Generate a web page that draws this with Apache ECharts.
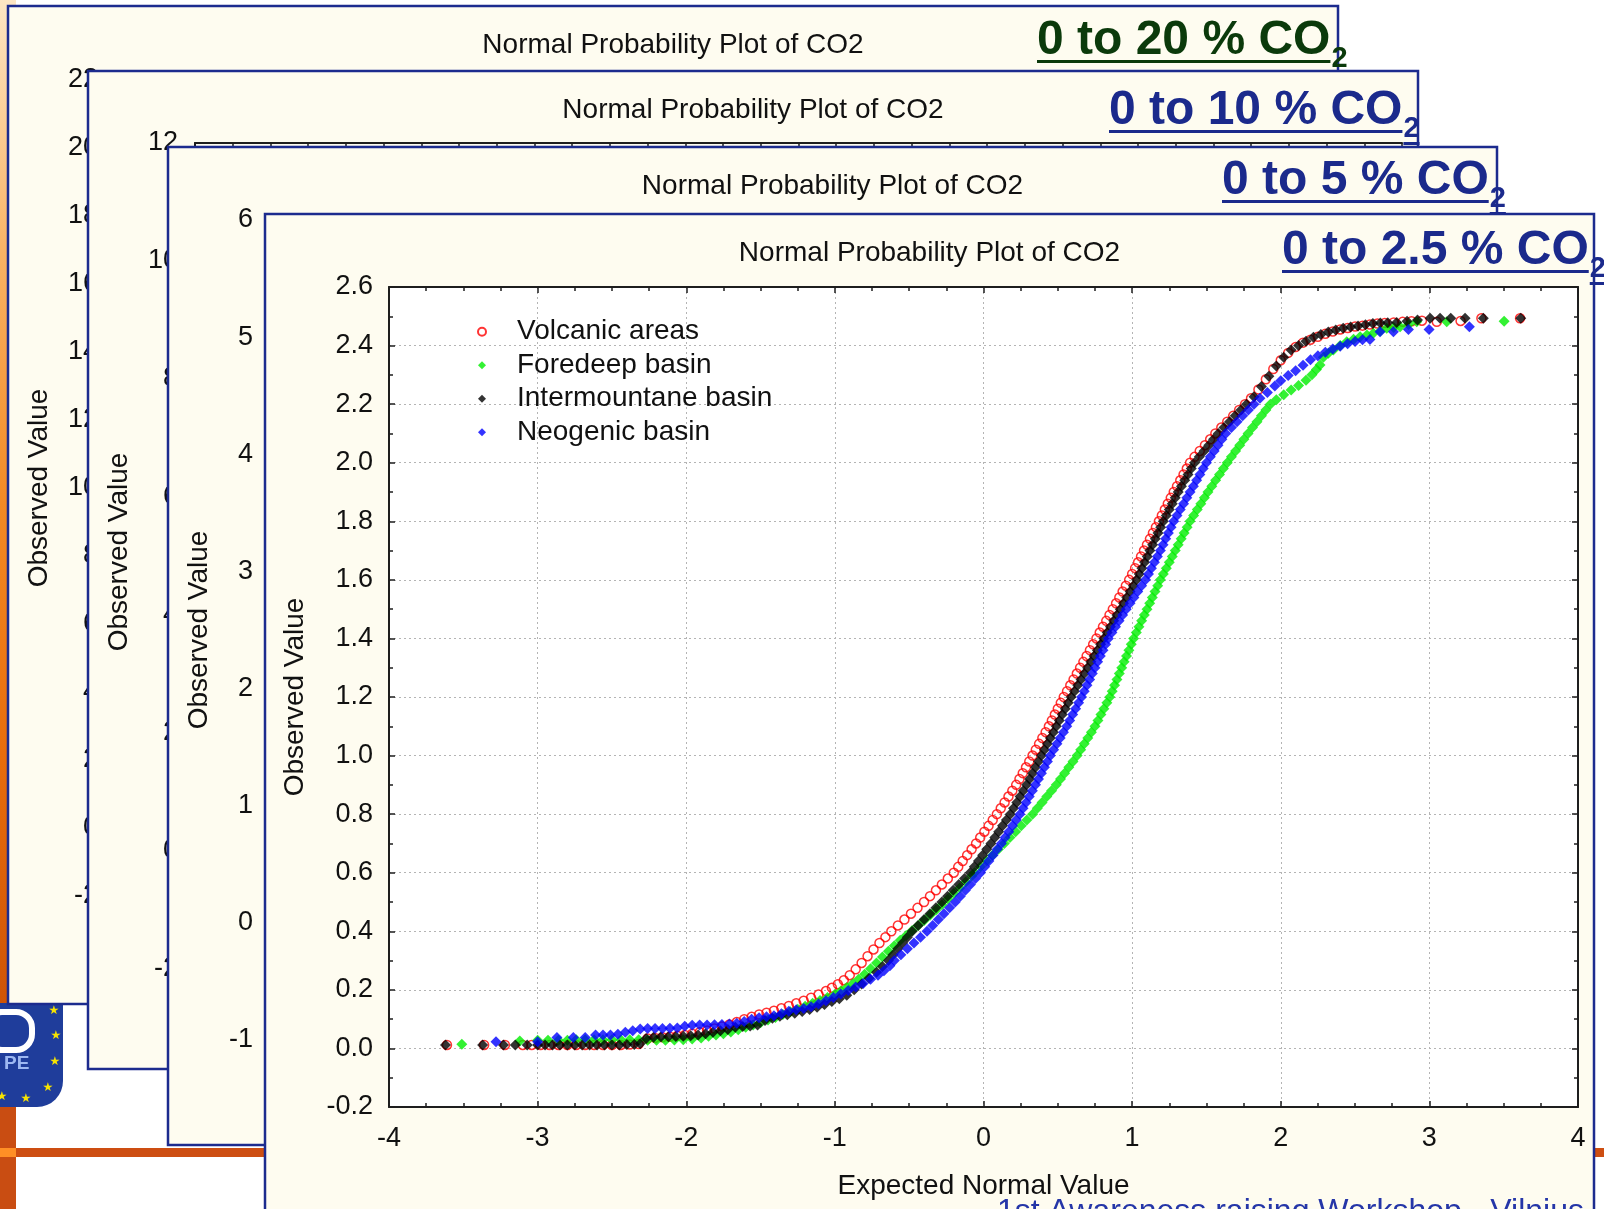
<!DOCTYPE html>
<html>
<head>
<meta charset="utf-8">
<title>Normal Probability Plot of CO2</title>
<script src="https://cdn.jsdelivr.net/npm/echarts@6.0.0/dist/echarts.min.js"></script>
<style>
  html, body { margin: 0; padding: 0; background: #ffffff; overflow: hidden; }
  #chart { width: 1604px; height: 1209px; }
</style>
</head>
<body>
<div id="chart"></div>
<script>
// ---------------- data ----------------
const seriesNames = ['Volcanic areas', 'Foredeep basin', 'Intermountane basin', 'Neogenic basin'];

// [expected normal value, observed value]
const volcanicPts = [
  [-3.61,0.012],[-3.36,0.012],[-3.22,0.012],[-3.1,0.012],[-3.04,0.012],[-2.98,0.012],[-2.92,0.012],[-2.86,0.012],
  [-2.8,0.012],[-2.74,0.012],[-2.68,0.012],[-2.62,0.012],[-2.56,0.012],[-2.5,0.012],[-2.44,0.012],[-2.38,0.013],[-2.32,0.015],
  [-2.26,0.034],[-2.21,0.036],[-2.16,0.038],[-2.11,0.04],[-2.06,0.043],[-2.01,0.046],[-1.96,0.05],[-1.91,0.055],
  [-1.86,0.061],[-1.81,0.068],[-1.76,0.075],[-1.71,0.082],[-1.66,0.09],[-1.61,0.1],[-1.56,0.108],[-1.51,0.116],
  [-1.46,0.122],[-1.41,0.129],[-1.36,0.137],[-1.31,0.145],[-1.26,0.154],[-1.21,0.163],[-1.16,0.173],[-1.11,0.184],
  [-1.06,0.196],[-1.02,0.207],[-0.98,0.219],[-0.94,0.233],[-0.90,0.25],[-0.86,0.27],[-0.82,0.292],[-0.78,0.315],
  [-0.74,0.338],[-0.70,0.36],[-0.66,0.38],[-0.62,0.40],[-0.576,0.42],[-0.532,0.44],
  [-0.488,0.46],[-0.444,0.48],[-0.40,0.50],[-0.36,0.52],[-0.32,0.54],[-0.28,0.56],[-0.24,0.58],[-0.20,0.60],
  [-0.17,0.62],[-0.14,0.64],[-0.11,0.66],[-0.08,0.68],[-0.05,0.70],[-0.022,0.72],[0.006,0.74],[0.034,0.76],
  [0.062,0.78],[0.09,0.80],[0.116,0.82],[0.142,0.84],[0.168,0.86],[0.194,0.88],[0.22,0.90],[0.242,0.92],
  [0.264,0.94],[0.286,0.96],[0.308,0.98],[0.33,1.00],[0.352,1.02],[0.374,1.04],[0.396,1.06],[0.418,1.08],
  [0.44,1.10],[0.46,1.12],[0.48,1.14],[0.50,1.16],[0.52,1.18],[0.54,1.20],[0.562,1.22],[0.584,1.24],
  [0.606,1.26],[0.628,1.28],[0.65,1.30],[0.672,1.32],[0.694,1.34],[0.716,1.36],[0.738,1.38],[0.76,1.40],
  [0.782,1.42],[0.804,1.44],[0.826,1.46],[0.848,1.48],[0.87,1.50],[0.892,1.52],[0.914,1.54],[0.936,1.56],
  [0.958,1.58],[0.98,1.60],[1.00,1.62],[1.02,1.64],[1.04,1.66],[1.06,1.68],[1.08,1.70],[1.10,1.72],
  [1.12,1.74],[1.14,1.76],[1.16,1.78],[1.18,1.80],[1.20,1.82],[1.22,1.84],[1.24,1.86],[1.26,1.88],
  [1.28,1.90],[1.302,1.92],[1.324,1.94],[1.346,1.96],[1.368,1.98],[1.39,2.00],[1.42,2.02],[1.455,2.04],
  [1.49,2.06],[1.525,2.08],[1.56,2.10],[1.60,2.12],[1.64,2.14],[1.68,2.16],[1.72,2.18],[1.76,2.20],
  [1.80,2.22],[1.85,2.25],[1.90,2.285],[1.95,2.32],[2.0,2.35],[2.05,2.375],[2.10,2.395],[2.15,2.41],
  [2.20,2.42],[2.25,2.43],[2.30,2.44],[2.35,2.448],[2.40,2.455],[2.45,2.46],[2.50,2.465],[2.55,2.468],
  [2.60,2.472],[2.65,2.475],[2.70,2.477],[2.76,2.479],[2.82,2.481],[2.88,2.483],[2.95,2.485],
  [3.05,2.481],[3.21,2.484],[3.35,2.493],[3.61,2.493]
];

const foredeepPts = [
  [-3.51,0.014],[-3.12,0.025],[-3.0,0.028],[-2.93,0.028],[-2.86,0.028],[-2.8,0.028],[-2.74,0.03],[-2.68,0.03],
  [-2.62,0.03],[-2.56,0.03],[-2.5,0.03],[-2.44,0.03],[-2.38,0.03],[-2.32,0.03],[-2.26,0.028],[-2.2,0.028],
  [-2.14,0.028],[-2.08,0.029],[-2.02,0.03],[-1.96,0.032],[-1.9,0.036],[-1.85,0.042],[-1.8,0.046],[-1.75,0.05],
  [-1.7,0.056],[-1.65,0.064],[-1.6,0.072],[-1.55,0.08],[-1.5,0.088],[-1.45,0.097],[-1.4,0.106],[-1.35,0.116],
  [-1.3,0.125],[-1.25,0.134],[-1.2,0.144],[-1.15,0.154],[-1.1,0.164],[-1.05,0.174],[-1.0,0.185],[-0.96,0.196],
  [-0.92,0.208],[-0.88,0.221],[-0.84,0.236],[-0.80,0.253],[-0.76,0.272],[-0.72,0.292],[-0.68,0.312],[-0.64,0.332],
  [-0.60,0.351],[-0.56,0.369],[-0.52,0.386],[-0.48,0.403],[-0.44,0.42],[-0.40,0.437],[-0.36,0.455],[-0.32,0.473],
  [-0.28,0.491],[-0.24,0.51],[-0.20,0.529],[-0.16,0.548],[-0.12,0.568],[-0.08,0.589],[-0.06,0.60],
  [-0.02,0.62],[0.02,0.64],[0.06,0.66],[0.10,0.68],[0.14,0.70],[0.178,0.72],[0.216,0.74],[0.254,0.76],
  [0.292,0.78],[0.33,0.80],[0.362,0.82],[0.394,0.84],[0.426,0.86],[0.458,0.88],[0.49,0.90],[0.518,0.92],
  [0.546,0.94],[0.574,0.96],[0.602,0.98],[0.63,1.00],[0.654,1.02],[0.678,1.04],[0.702,1.06],[0.726,1.08],
  [0.75,1.10],[0.77,1.12],[0.79,1.14],[0.81,1.16],[0.83,1.18],[0.85,1.20],[0.866,1.22],[0.882,1.24],
  [0.898,1.26],[0.914,1.28],[0.93,1.30],[0.946,1.32],[0.962,1.34],[0.978,1.36],[0.994,1.38],[1.01,1.40],
  [1.028,1.42],[1.046,1.44],[1.064,1.46],[1.082,1.48],[1.10,1.50],[1.118,1.52],[1.136,1.54],[1.154,1.56],
  [1.172,1.58],[1.19,1.60],[1.21,1.62],[1.23,1.64],[1.25,1.66],[1.27,1.68],[1.29,1.70],[1.31,1.72],
  [1.33,1.74],[1.35,1.76],[1.37,1.78],[1.39,1.80],[1.414,1.82],[1.438,1.84],[1.462,1.86],[1.486,1.88],
  [1.51,1.90],[1.536,1.92],[1.562,1.94],[1.588,1.96],[1.614,1.98],[1.64,2.00],[1.668,2.02],[1.696,2.04],
  [1.724,2.06],[1.752,2.08],[1.78,2.10],[1.81,2.12],[1.84,2.14],[1.87,2.16],[1.90,2.18],[1.93,2.20],
  [1.97,2.215],[2.02,2.232],[2.07,2.248],[2.12,2.264],[2.17,2.282],[2.21,2.30],[2.24,2.318],[2.264,2.334],
  [2.287,2.36],[2.32,2.374],[2.354,2.385],[2.40,2.40],[2.444,2.413],[2.49,2.422],[2.534,2.43],[2.58,2.436],
  [2.623,2.442],[2.67,2.45],[2.713,2.459],[2.76,2.462],[2.803,2.464],[2.86,2.472],[2.915,2.481],
  [3.117,2.481],[3.503,2.483]
];

const intermountanePts = [
  [-3.62,0.012],[-3.37,0.012],[-3.23,0.012],[-3.15,0.012],[-3.07,0.012],[-3.0,0.012],[-2.95,0.012],[-2.9,0.012],
  [-2.85,0.012],[-2.8,0.012],[-2.75,0.012],[-2.7,0.012],[-2.65,0.012],[-2.6,0.012],[-2.55,0.012],[-2.5,0.012],
  [-2.45,0.012],[-2.4,0.013],[-2.35,0.013],[-2.31,0.016],[-2.27,0.034],[-2.22,0.038],[-2.17,0.04],[-2.12,0.04],
  [-2.07,0.041],[-2.02,0.042],[-1.97,0.043],[-1.92,0.046],[-1.87,0.05],[-1.82,0.055],[-1.77,0.06],[-1.72,0.065],
  [-1.67,0.072],[-1.62,0.075],[-1.57,0.077],[-1.52,0.08],[-1.47,0.095],[-1.42,0.103],[-1.37,0.11],[-1.32,0.115],
  [-1.27,0.12],[-1.22,0.126],[-1.17,0.133],[-1.12,0.141],[-1.07,0.15],[-1.02,0.16],[-0.97,0.17],[-0.92,0.182],
  [-0.87,0.2],[-0.82,0.22],[-0.77,0.24],[-0.72,0.26],[-0.68,0.28],
  [-0.64,0.30],[-0.608,0.32],[-0.576,0.34],[-0.544,0.36],[-0.512,0.38],[-0.48,0.40],[-0.44,0.42],[-0.40,0.44],
  [-0.36,0.46],[-0.32,0.48],[-0.28,0.50],[-0.242,0.52],[-0.204,0.54],[-0.166,0.56],[-0.128,0.58],[-0.09,0.60],
  [-0.062,0.62],[-0.034,0.64],[-0.006,0.66],[0.022,0.68],[0.05,0.70],[0.076,0.72],[0.102,0.74],[0.128,0.76],
  [0.154,0.78],[0.18,0.80],[0.202,0.82],[0.224,0.84],[0.246,0.86],[0.268,0.88],[0.29,0.90],[0.31,0.92],
  [0.33,0.94],[0.35,0.96],[0.37,0.98],[0.39,1.00],[0.41,1.02],[0.43,1.04],[0.45,1.06],[0.47,1.08],
  [0.49,1.10],[0.51,1.12],[0.53,1.14],[0.55,1.16],[0.57,1.18],[0.59,1.20],[0.612,1.22],[0.634,1.24],
  [0.656,1.26],[0.678,1.28],[0.70,1.30],[0.722,1.32],[0.744,1.34],[0.766,1.36],[0.788,1.38],[0.81,1.40],
  [0.832,1.42],[0.854,1.44],[0.876,1.46],[0.898,1.48],[0.92,1.50],[0.942,1.52],[0.964,1.54],[0.986,1.56],
  [1.008,1.58],[1.03,1.60],[1.048,1.62],[1.066,1.64],[1.084,1.66],[1.102,1.68],[1.12,1.70],[1.138,1.72],
  [1.156,1.74],[1.174,1.76],[1.192,1.78],[1.21,1.80],[1.23,1.82],[1.25,1.84],[1.27,1.86],[1.29,1.88],
  [1.31,1.90],[1.332,1.92],[1.354,1.94],[1.376,1.96],[1.398,1.98],[1.42,2.00],[1.452,2.02],[1.484,2.04],
  [1.516,2.06],[1.548,2.08],[1.58,2.10],[1.618,2.12],[1.656,2.14],[1.694,2.16],[1.732,2.18],[1.77,2.20],
  [1.82,2.225],[1.87,2.26],[1.92,2.295],[1.97,2.33],[2.02,2.36],[2.07,2.385],[2.12,2.40],[2.17,2.415],
  [2.22,2.428],[2.27,2.438],[2.32,2.446],[2.37,2.453],[2.42,2.459],[2.47,2.463],[2.52,2.467],[2.57,2.471],
  [2.62,2.475],[2.67,2.477],[2.72,2.478],[2.78,2.479],[2.85,2.483],[2.92,2.487],
  [3.005,2.493],[3.072,2.493],[3.144,2.493],[3.24,2.493],[3.363,2.493],[3.615,2.493]
];

const neogenicPts = [
  [-3.28,0.023],[-3.0,0.023],[-2.87,0.037],[-2.76,0.037],[-2.68,0.037],[-2.61,0.046],[-2.56,0.046],[-2.51,0.046],
  [-2.46,0.048],[-2.41,0.055],[-2.36,0.06],[-2.31,0.066],[-2.26,0.068],[-2.21,0.068],[-2.16,0.068],[-2.11,0.069],
  [-2.06,0.07],[-2.01,0.076],[-1.96,0.079],[-1.91,0.08],[-1.86,0.08],[-1.81,0.081],[-1.76,0.082],[-1.71,0.083],
  [-1.66,0.086],[-1.61,0.092],[-1.56,0.1],[-1.51,0.105],[-1.46,0.108],[-1.41,0.112],[-1.36,0.118],[-1.31,0.127],
  [-1.26,0.132],[-1.21,0.136],[-1.16,0.142],[-1.11,0.152],[-1.06,0.163],[-1.01,0.174],[-0.96,0.186],[-0.91,0.198],
  [-0.86,0.21],[-0.81,0.222],[-0.76,0.236],[-0.71,0.25],[-0.67,0.265],[-0.63,0.282],
  [-0.60,0.30],[-0.556,0.32],[-0.512,0.34],[-0.468,0.36],[-0.424,0.38],[-0.38,0.40],[-0.342,0.42],[-0.304,0.44],
  [-0.266,0.46],[-0.228,0.48],[-0.19,0.50],[-0.156,0.52],[-0.122,0.54],[-0.088,0.56],[-0.054,0.58],[-0.02,0.60],
  [0.008,0.62],[0.036,0.64],[0.064,0.66],[0.092,0.68],[0.12,0.70],[0.145,0.72],[0.17,0.74],[0.195,0.76],
  [0.22,0.78],[0.245,0.80],[0.266,0.82],[0.287,0.84],[0.308,0.86],[0.329,0.88],[0.35,0.90],[0.37,0.92],
  [0.39,0.94],[0.41,0.96],[0.43,0.98],[0.45,1.00],[0.472,1.02],[0.494,1.04],[0.516,1.06],[0.538,1.08],
  [0.56,1.10],[0.58,1.12],[0.60,1.14],[0.62,1.16],[0.64,1.18],[0.66,1.20],[0.678,1.22],[0.696,1.24],
  [0.714,1.26],[0.732,1.28],[0.75,1.30],[0.768,1.32],[0.786,1.34],[0.804,1.36],[0.822,1.38],[0.84,1.40],
  [0.864,1.42],[0.888,1.44],[0.912,1.46],[0.936,1.48],[0.96,1.50],[0.986,1.52],[1.012,1.54],[1.038,1.56],
  [1.064,1.58],[1.09,1.60],[1.11,1.62],[1.13,1.64],[1.15,1.66],[1.17,1.68],[1.19,1.70],[1.208,1.72],
  [1.226,1.74],[1.244,1.76],[1.262,1.78],[1.28,1.80],[1.302,1.82],[1.324,1.84],[1.346,1.86],[1.368,1.88],
  [1.39,1.90],[1.412,1.92],[1.434,1.94],[1.456,1.96],[1.478,1.98],[1.50,2.00],[1.526,2.02],[1.552,2.04],
  [1.578,2.06],[1.604,2.08],[1.63,2.10],[1.668,2.12],[1.706,2.14],[1.744,2.16],[1.782,2.18],[1.82,2.20],
  [1.86,2.22],[1.91,2.24],[1.96,2.262],[2.0,2.28],[2.05,2.298],[2.1,2.314],[2.15,2.333],[2.2,2.352],
  [2.25,2.365],[2.3,2.377],[2.35,2.388],[2.4,2.398],[2.45,2.406],[2.5,2.414],[2.55,2.42],[2.6,2.421],
  [2.668,2.447],[2.758,2.447],[2.859,2.455],[2.998,2.455],[3.269,2.464]
];

const panelTitle = 'Normal Probability Plot of CO2';
const xAxisTitle = 'Expected Normal Value';
const yAxisTitle = 'Observed Value';
const rangeTexts = ['0 to 20 % CO', '0 to 10 % CO', '0 to 5 % CO', '0 to 2.5 % CO'];
const rangeSub = '2';
const footerText = '1st Awareness raising Workshop - Vilnius';

// value ranges of the four stacked panels: [min, max, step]
const yRanges = [[-2, 22, 2], [-2, 12, 2], [-1, 6, 1], [-0.2, 2.6, 0.2]];
const xRange = [-4, 4, 1];

// ---------------- layout & style ----------------
const FONT = '"Liberation Sans", Arial, Helvetica, sans-serif';
const NAVY = '#1c2b8e';
const TAG_BLUE = '#1b2a8c';
const TAG_GREEN = '#0b3a0b';
const CREAM = '#fefcf0';
const AXIS = '#1e1e1e';
const GRIDLINE = '#b4b4b4';
const seriesColors = ['#ff0000', '#00ee00', '#000000', '#0000ff'];

const panels = [
  { x: 8,   y: 6,   w: 1330, h: 998 },
  { x: 88,  y: 71,  w: 1330, h: 998 },
  { x: 168, y: 147, w: 1329, h: 998 },
  { x: 265, y: 214, w: 1329, h: 1010 }
];
const grids = [
  { left: 114, top: 80,  width: 1190, height: 816 },
  { left: 195, top: 143, width: 1207, height: 826 },
  { left: 270, top: 220, width: 1190, height: 820 },
  { left: 389, top: 287, width: 1189, height: 820 }
];
const labelMargins = [16, 17, 17, 16];
const yTitlePos = [[39, 488], [119, 552], [199, 630], [295, 697]];
const tagPos = [[1037, 57], [1109, 127], [1222, 197], [1282, 267]];
const tagColors = [TAG_GREEN, TAG_BLUE, TAG_BLUE, TAG_BLUE];

const TITLE_FS = 28, TICK_FS = 27;
const MAIN_FS = 48, SUB_FS = 29;
const MID = 0.3465; // distance from em middle to alphabetic baseline, in em

const measureCtx = document.createElement('canvas').getContext('2d');
function textWidth(str, font) { measureCtx.font = font; return measureCtx.measureText(str).width; }

function textEl(x, y, text, font, fill, align, vAlign, z, rotation) {
  return {
    type: 'text', x: x, y: y, rotation: rotation || 0, z: z, silent: true,
    style: { text: text, font: font, fill: fill, align: align, verticalAlign: vAlign,
             textAlign: align, textVerticalAlign: vAlign }
  };
}

// ---------------- slide backdrop ----------------
const graphics = [];
graphics.push({ type: 'rect', z: 1, silent: true, shape: { x: 0, y: 0, width: 16, height: 1004 },
  style: { fill: { type: 'linear', x: 0, y: 0, x2: 0, y2: 1, colorStops: [
    { offset: 0, color: '#fde6c4' }, { offset: 0.25, color: '#f9b365' }, { offset: 0.5, color: '#f38a25' },
    { offset: 0.75, color: '#e86d0c' }, { offset: 1, color: '#cf5406' } ] } } });
graphics.push({ type: 'rect', z: 1, silent: true, shape: { x: 0, y: 1106, width: 16, height: 110 }, style: { fill: '#c94d12' } });
graphics.push({ type: 'rect', z: 1, silent: true, shape: { x: 0, y: 1148, width: 1604, height: 9 }, style: { fill: '#cd4e12' } });
graphics.push({ type: 'rect', z: 2, silent: true, shape: { x: 0, y: 1148, width: 16, height: 9 }, style: { fill: '#ff8f25' } });
// logo
graphics.push({ type: 'rect', z: 2, silent: true, shape: { x: -30, y: 1003, width: 93, height: 104, r: [0, 0, 26, 0] }, style: { fill: '#1f3d9b' } });
graphics.push({ type: 'rect', z: 3, silent: true, shape: { x: -14, y: 1012, width: 46, height: 38, r: 16 }, style: { fill: 'none', stroke: '#ffffff', lineWidth: 6 } });
graphics.push(textEl(4, 1064, 'PE', 'bold 19px ' + FONT, '#9db8f2', 'left', 'middle', 3));
[[54, 1011], [56, 1036], [55, 1062], [48, 1088], [26, 1099], [2, 1097]].forEach(function (p) {
  graphics.push(textEl(p[0], p[1], '\u2605', '12px "DejaVu Sans", sans-serif', '#f7e400', 'center', 'middle', 3));
});

// ---------------- panels ----------------
panels.forEach(function (p, i) {
  const zb = 10 * (i + 1);
  graphics.push({ type: 'rect', z: zb, silent: true, shape: { x: p.x, y: p.y, width: p.w, height: p.h },
    style: { fill: CREAM, stroke: NAVY, lineWidth: 2.5 } });
  graphics.push(textEl(p.x + p.w / 2, p.y + 39, panelTitle, TITLE_FS + 'px ' + FONT, '#111111', 'center', 'middle', zb + 4));
  graphics.push(textEl(yTitlePos[i][0], yTitlePos[i][1], yAxisTitle, TITLE_FS + 'px ' + FONT, '#111111', 'center', 'middle', zb + 4, Math.PI / 2));

  // range tag with subscript and underlines
  const mainFont = 'bold ' + MAIN_FS + 'px ' + FONT;
  const subFont = 'bold ' + SUB_FS + 'px ' + FONT;
  const tx = tagPos[i][0], base = tagPos[i][1];
  const mainW = textWidth(rangeTexts[i], mainFont);
  const subW = textWidth(rangeSub, subFont);
  const subX = tx + mainW + 1, subBase = base + 12.5;
  graphics.push(textEl(tx, base - MID * MAIN_FS, rangeTexts[i], mainFont, tagColors[i], 'left', 'middle', zb + 5));
  graphics.push(textEl(subX, subBase - MID * SUB_FS, rangeSub, subFont, tagColors[i], 'left', 'middle', zb + 5));
  graphics.push({ type: 'rect', z: zb + 5, silent: true, shape: { x: tx, y: base + 3, width: mainW, height: 3 }, style: { fill: tagColors[i] } });
  graphics.push({ type: 'rect', z: zb + 5, silent: true, shape: { x: subX, y: subBase + 2.5, width: subW, height: 3 }, style: { fill: tagColors[i] } });
});

// x-axis title of the front panel
const g4 = grids[3];
graphics.push(textEl(g4.left + g4.width / 2, 1186, xAxisTitle, TITLE_FS + 'px ' + FONT, '#111111', 'center', 'middle', 44));
// footer line of the slide
graphics.push(textEl(997, 1212, footerText, '32px ' + FONT, '#2536a8', 'left', 'middle', 100));

// ---------------- axes ----------------
const tickLine = { color: AXIS, width: 1.5 };
const dotted = { color: GRIDLINE, width: 1, type: [2, 3] };

const xAxes = [], yAxes = [];
grids.forEach(function (g, i) {
  const z = 10 * (i + 1) + 2;
  const isFront = i === 3;
  if (isFront) {
    xAxes.push({
      gridIndex: i, type: 'value', position: 'bottom', min: xRange[0], max: xRange[1], interval: xRange[2], z: z,
      axisLine: { show: true, onZero: false, lineStyle: { color: AXIS, width: 2 } },
      axisTick: { show: true, inside: true, length: 6, lineStyle: tickLine },
      minorTick: { show: true, splitNumber: 4, length: 4, lineStyle: tickLine },
      axisLabel: { show: true, fontSize: TICK_FS, fontFamily: FONT, color: '#111111', margin: 18 },
      splitLine: { show: true, lineStyle: dotted }
    });
    xAxes.push({
      gridIndex: i, type: 'value', position: 'top', min: xRange[0], max: xRange[1], interval: xRange[2], z: z,
      axisLine: { show: true, onZero: false, lineStyle: { color: AXIS, width: 2 } },
      axisTick: { show: true, inside: true, length: 6, lineStyle: tickLine },
      minorTick: { show: true, splitNumber: 4, length: 4, lineStyle: tickLine },
      axisLabel: { show: false }, splitLine: { show: false }
    });
  } else {
    xAxes.push({
      gridIndex: i, type: 'value', position: 'top', min: xRange[0], max: xRange[1], interval: xRange[2], z: z,
      show: i === 1,
      axisLine: { show: true, onZero: false, lineStyle: { color: AXIS, width: 2 } },
      axisTick: { show: true, inside: true, length: 5, lineStyle: tickLine },
      minorTick: { show: true, splitNumber: 4, length: 5, lineStyle: tickLine },
      axisLabel: { show: false }, splitLine: { show: false }
    });
  }
  const r = yRanges[i];
  yAxes.push({
    gridIndex: i, type: 'value', position: 'left', min: r[0], max: r[1], interval: r[2], z: z,
    axisLine: { show: true, onZero: false, lineStyle: { color: AXIS, width: 2 } },
    axisTick: { show: true, inside: true, length: 6, lineStyle: tickLine },
    minorTick: { show: isFront, splitNumber: 2, length: 4, lineStyle: tickLine },
    axisLabel: {
      show: true, fontSize: TICK_FS, fontFamily: FONT, color: '#111111', margin: labelMargins[i],
      formatter: isFront ? function (v) { return v.toFixed(1); } : function (v) { return String(v); }
    },
    splitLine: { show: isFront, lineStyle: dotted }
  });
  if (isFront) {
    yAxes.push({
      gridIndex: i, type: 'value', position: 'right', min: r[0], max: r[1], interval: r[2], z: z,
      axisLine: { show: true, onZero: false, lineStyle: { color: AXIS, width: 2 } },
      axisTick: { show: true, inside: true, length: 6, lineStyle: tickLine },
      minorTick: { show: true, splitNumber: 2, length: 4, lineStyle: tickLine },
      axisLabel: { show: false }, splitLine: { show: false }
    });
  }
});

// ---------------- series ----------------
const FRONT_X = 3, FRONT_Y = 3;
const seriesData = [volcanicPts, foredeepPts, intermountanePts, neogenicPts];
const series = seriesData.map(function (pts, k) {
  const s = {
    name: seriesNames[k], type: 'scatter', xAxisIndex: FRONT_X, yAxisIndex: FRONT_Y,
    data: pts, z: 43, silent: true, emphasis: { disabled: true }
  };
  if (k === 0) {
    s.symbol = 'circle'; s.symbolSize = 9;
    s.itemStyle = { color: 'rgba(255,255,255,0)', borderColor: seriesColors[k], borderWidth: 1.5 };
  } else {
    s.symbol = 'diamond'; s.symbolSize = 11;
    s.itemStyle = { color: seriesColors[k] };
  }
  return s;
});

const chart = echarts.init(document.getElementById('chart'), null, { renderer: 'canvas', width: 1604, height: 1209 });
chart.setOption({
  animation: false,
  backgroundColor: '#ffffff',
  textStyle: { fontFamily: FONT },
  grid: grids.map(function (g, i) {
    return { left: g.left, top: g.top, width: g.width, height: g.height, show: i === 3,
             backgroundColor: '#ffffff', borderWidth: 0, z: 10 * (i + 1) + 1 };
  }),
  xAxis: xAxes,
  yAxis: yAxes,
  legend: {
    data: seriesNames, orient: 'vertical', left: 477, top: 315, padding: 0, itemGap: 0,
    itemWidth: 8, itemHeight: 8, selectedMode: false, z: 44,
    textStyle: { fontSize: 28, fontFamily: FONT, color: '#111111', lineHeight: 33.5, padding: [0, 0, 0, 26] }
  },
  series: series,
  graphic: { elements: graphics }
});
</script>
</body>
</html>
